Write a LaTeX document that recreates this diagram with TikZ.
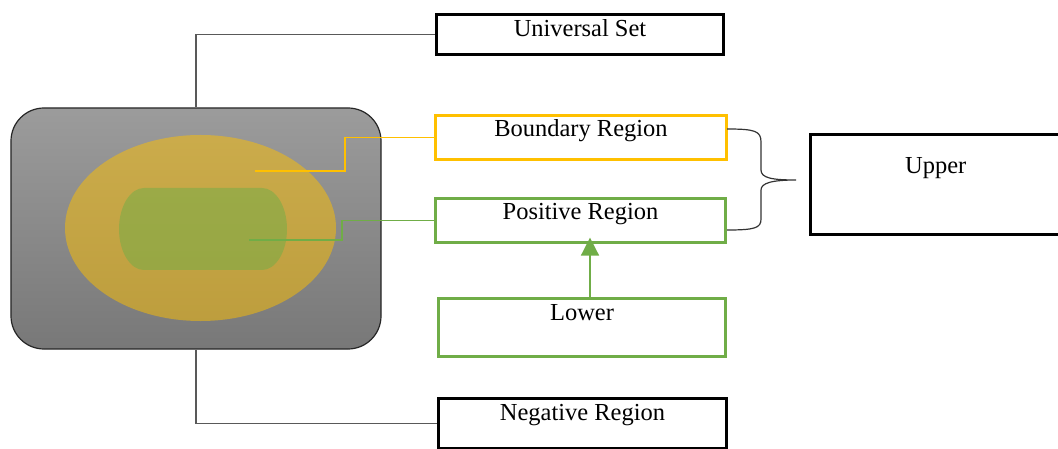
\documentclass[tikz,border=0pt]{standalone}
\usepackage{fontspec}
\setmainfont{Liberation Serif}
\usetikzlibrary{arrows.meta,positioning,calc,shapes.geometric}
\definecolor{gold}{HTML}{FFC000}
\definecolor{grn}{HTML}{70AD47}
\tikzset{
  tbox/.style={rectangle,draw,line width=0.75mm,inner sep=0pt,font=\fontsize{17.4}{20}\selectfont},
  kbox/.style={tbox,draw=black},
  obox/.style={tbox,draw=gold},
  gbox/.style={tbox,draw=grn},
  ln/.style={line width=0.35mm,black!65},
  oln/.style={line width=0.3mm,gold},
  gln/.style={line width=0.3mm,grn},
  up/.style={-{Triangle[length=4.5mm,width=4.5mm]},line width=0.4mm,grn}
}

\begin{document}
\begin{tikzpicture}[x=0.25mm,y=0.25mm]
\clip (0,0) rectangle (1058,-449);
% the sets
\node[rectangle,draw=black!85,line width=0.3mm,rounded corners=8.25mm,top color=black!39,bottom color=black!53,minimum width=92.5mm,minimum height=60.25mm] (U) at (196,-228.5) {};
\node[ellipse,fill=gold,fill opacity=0.5,minimum width=67.75mm,minimum height=46.5mm] (B) at (200.5,-228) {};
\fill[grn,fill opacity=0.5] (144,-188) -- (262,-188) arc[start angle=90,end angle=-90,x radius=25,y radius=41] -- (144,-270) arc[start angle=270,end angle=90,x radius=25,y radius=41] -- cycle;
\coordinate (bs) at (255,-171);
\coordinate (ps) at (249,-240);

% labels
\node[kbox,minimum width=71.75mm,text height=5.625mm,text depth=4.375mm] (uni) at (580,-34.5) {Universal Set};
\node[obox,minimum width=72.75mm,text height=5.375mm,text depth=5.625mm] (bnd) at (581,-137.5) {Boundary Region};
\node[gbox,minimum width=72.5mm,text height=5.375mm,text depth=5.625mm] (pos) at (580.5,-220.5) {Positive Region};
\node[gbox,minimum width=71.75mm,text height=5.625mm,text depth=8.875mm] (low) at (582,-327.5) {Lower};
\node[kbox,minimum width=72mm,text height=5.375mm,text depth=7.125mm] (neg) at (582.5,-423.5) {Negative Region};
\node[kbox,minimum width=62.625mm,text height=9.875mm,text depth=15.125mm] (upp) at (935.75,-184.5) {Upper};

% connectors
\draw[ln] (U.north) |- (uni.west);
\draw[ln] (U.south) |- (neg.west);
\draw[oln] (bs) -- ++(90,0) |- (bnd.west);
\draw[gln] (ps) -- ++(93,0) |- (pos.west);
\coordinate (ax) at (590,0);
\draw[up,shorten >=-1.6mm] (ax |- low.north) -- (ax |- pos.south);

% brace
\coordinate (bt) at (727,-129);
\coordinate (bb) at (727,-230);
\coordinate (tip) at (796,-180);
\draw[line width=0.3mm,black!80] (bt) .. controls (755,-129) and (761,-131) .. (761,-142) -- (761,-170)
  .. controls (761,-178) and (772,-180) .. (tip)
  .. controls (772,-180) and (761,-183) .. (761,-190) -- (761,-219)
  .. controls (761,-228) and (755,-230) .. (bb);
\end{tikzpicture}
\end{document}
